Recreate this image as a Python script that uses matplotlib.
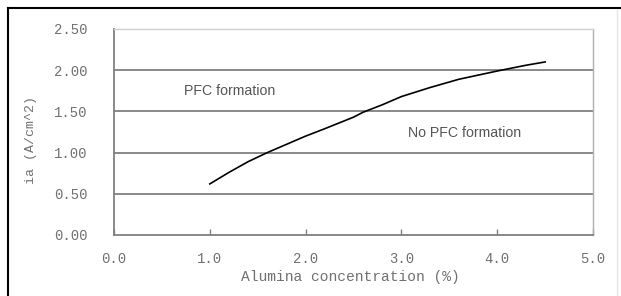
import matplotlib
matplotlib.use("Agg")
import matplotlib.pyplot as plt
from matplotlib.lines import Line2D

# Data
alumina = [1.0, 1.2, 1.4, 1.6, 1.8, 2.0, 2.2, 2.5, 2.6, 2.8, 3.0, 3.3, 3.6, 4.0, 4.3, 4.5]
ia = [0.62, 0.76, 0.89, 1.00, 1.10, 1.20, 1.29, 1.43, 1.49, 1.58, 1.68, 1.79, 1.89, 1.99, 2.06, 2.10]
xticks = [0.0, 1.0, 2.0, 3.0, 4.0, 5.0]
yticks = [0.0, 0.5, 1.0, 1.5, 2.0, 2.5]
xtick_labels = ["0.0", "1.0", "2.0", "3.0", "4.0", "5.0"]
ytick_labels = ["0.00", "0.50", "1.00", "1.50", "2.00", "2.50"]

W, H = 621, 296
fig = plt.figure(figsize=(W / 100, H / 100), dpi=100)
fig.patch.set_facecolor("white")

# outer border (left and top, black)
fig.add_artist(Line2D([8 / W, 8 / W], [0, 1 - 8 / H], color="black", lw=1.5, transform=fig.transFigure))
fig.add_artist(Line2D([8 / W, 1], [1 - 8 / H, 1 - 8 / H], color="black", lw=1.5, transform=fig.transFigure))
fig.add_artist(Line2D([617 / W, 617 / W], [0, 1 - 10 / H], color="#e6e6e6", lw=1.0, transform=fig.transFigure))

ax = fig.add_axes([114 / W, 1 - 235 / H, (593 - 114) / W, (235 - 29) / H])
ax.set_xlim(0, 5)
ax.set_ylim(0, 2.5)

for y in yticks[1:-1]:
    ax.axhline(y, color="#808080", lw=1.3, zorder=1)

ax.plot(alumina, ia, color="black", lw=1.2, zorder=3)

mono = "Liberation Mono"
tcol = "#707070"
ax.set_xticks(xticks)
ax.set_xticklabels(xtick_labels, fontfamily=mono, fontsize=10, color=tcol)
ax.set_yticks(yticks)
ax.set_yticklabels(ytick_labels, fontfamily=mono, fontsize=10, color=tcol)
ax.tick_params(axis="x", direction="in", length=4, width=1, color="#808080", pad=12)
ax.tick_params(axis="y", length=0, pad=19)

ax.spines["left"].set_color("#808080")
ax.spines["left"].set_linewidth(1.3)
ax.spines["bottom"].set_color("#808080")
ax.spines["bottom"].set_linewidth(1.3)
ax.spines["top"].set_color("#d0d0d0")
ax.spines["top"].set_linewidth(1.0)
ax.spines["right"].set_color("#b0b0b0")
ax.spines["right"].set_linewidth(1.0)

ax.set_xlabel("Alumina concentration (%)", fontfamily=mono, fontsize=10.5, color=tcol)
ax.xaxis.set_label_coords((350 - 114) / 479, (235 - 270) / 206)
ax.set_ylabel("ia (A/cm^2)", fontfamily=mono, fontsize=9.5, color=tcol)
ax.yaxis.set_label_coords((37 - 114) / 479, (235 - 140) / 206)

ax.text(0.73, 1.75, "PFC formation", fontfamily="Liberation Sans", fontsize=10.2, color="#555555", va="center")
ax.text(3.07, 1.24, "No PFC formation", fontfamily="Liberation Sans", fontsize=10.2, color="#555555", va="center")

fig.savefig("out.png", dpi=100, facecolor="white")
